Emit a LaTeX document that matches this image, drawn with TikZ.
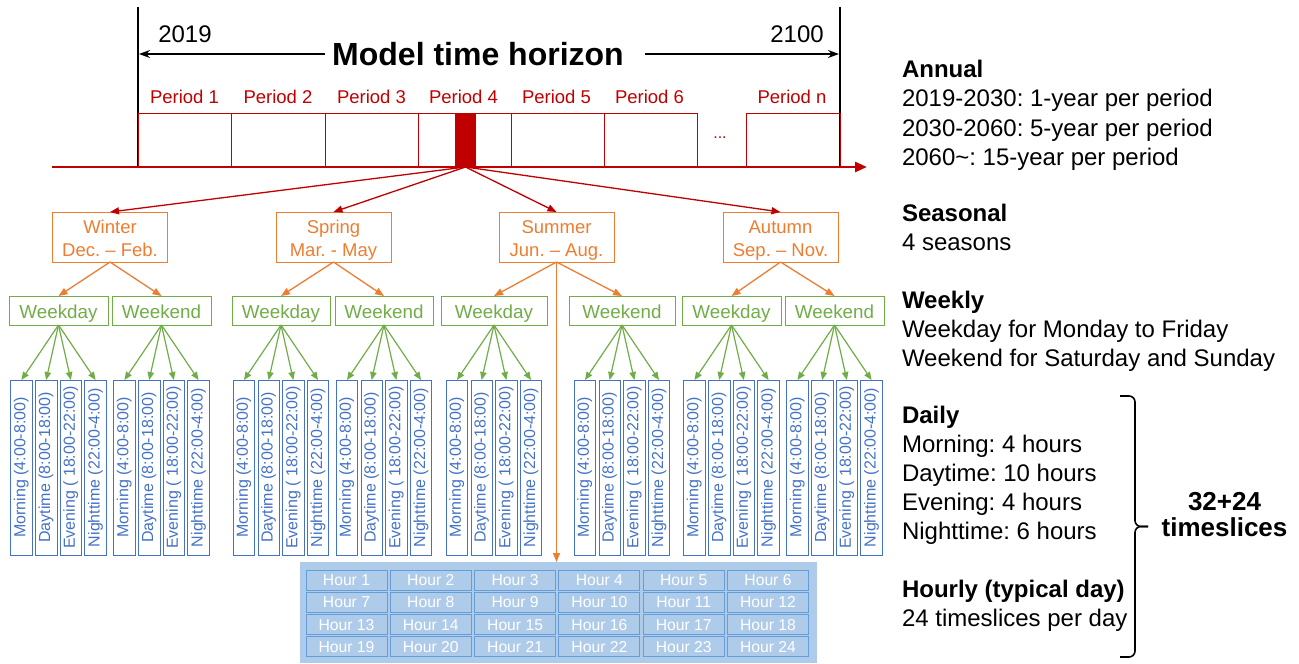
\documentclass[tikz,border=0pt]{standalone}
\usepackage{fontspec}
\setmainfont{Liberation Sans}
\usetikzlibrary{arrows.meta}
\definecolor{pred}{RGB}{192,0,0}
\definecolor{porange}{RGB}{237,125,49}
\definecolor{pgreen}{RGB}{112,173,71}
\definecolor{pblue}{RGB}{68,114,196}
\definecolor{hbg}{RGB}{174,203,234}
\definecolor{hborder}{RGB}{100,158,218}
\frenchspacing
\newcommand{\topl}{\rule{0pt}{20.2pt}}
\newcommand{\botl}{\rule[-4pt]{0pt}{4pt}}
\begin{document}
\begin{tikzpicture}[x=1pt,y=-1pt,
  every node/.style={inner sep=0pt, outer sep=0pt},
  plabel/.style={text=pred, font=\fontsize{18.5}{22}\selectfont},
  pbox/.style={draw=pred, line width=0.8pt, minimum height=54pt},
  season/.style={draw=porange, text=porange, line width=1pt, minimum width=115pt, minimum height=50pt, align=center, font=\fontsize{18.5}{23}\selectfont},
  wkbox/.style={draw=pgreen, text=pgreen, line width=1pt, minimum height=29pt, text height=16pt, text depth=1pt, font=\fontsize{18.8}{22}\selectfont},
  dybox/.style={draw=pblue, text=pblue, line width=0.8pt, minimum width=175pt, minimum height=21.5pt, rotate=90, text height=11.5pt, text depth=3.5pt, font=\fontsize{16}{18}\selectfont},
  hcell/.style={draw=hborder, fill=hbg, text=white, line width=1pt, minimum width=81pt, minimum height=20pt, text height=11pt, text depth=0pt, font=\fontsize{15.7}{18}\selectfont},
  rtxt/.style={anchor=base west, font=\fontsize{24}{29}\selectfont},
  rbold/.style={anchor=base west, font=\fontsize{24}{29}\selectfont\bfseries},
  rarrow/.style={draw=pred, line width=1.3pt, -{Triangle[length=9pt,width=7pt]}},
  oarrow/.style={draw=porange, line width=1.3pt, -{Triangle[length=9pt,width=7pt]}},
  garrow/.style={draw=pgreen, line width=1.2pt, -{Triangle[length=8pt,width=6.5pt]}},
  karrow/.style={draw=black, line width=1.5pt, -{Stealth[length=11pt,width=8pt]}}
]
\path[use as bounding box] (0,0) rectangle (1299,664);

% ---- time horizon ----
\coordinate (vL1) at (138,7);  \coordinate (vL2) at (138,167);
\coordinate (vR1) at (840,7);  \coordinate (vR2) at (840,167);
\coordinate (axL) at (52,167); \coordinate (axR) at (867,167);
\draw[black, line width=2pt] (vL1) -- (vL2);
\draw[black, line width=2pt] (vR1) -- (vR2);
\node[font=\fontsize{24}{28}\selectfont] (y2019) at (185,34) {2019};
\node[font=\fontsize{24}{28}\selectfont] (y2100) at (797,34) {2100};
\node[font=\fontsize{32}{36}\selectfont\bfseries] (title) at (478,54) {Model time horizon};
\coordinate (aL0) at (325,54); \coordinate (aL1) at (139,54);
\coordinate (aR0) at (645,54); \coordinate (aR1) at (839,54);
\draw[karrow] (aL0) -- (aL1);
\draw[karrow] (aR0) -- (aR1);

% period boxes
\node[pbox, minimum width=93pt] (p1) at (184.5,140) {};
\node[pbox, minimum width=94pt] (p2) at (278,140) {};
\node[pbox, minimum width=93pt] (p3) at (371.5,140) {};
\node[pbox, minimum width=93pt] (p4) at (464.5,140) {};
\node[pbox, minimum width=93pt] (p5) at (557.5,140) {};
\node[pbox, minimum width=93pt] (p6) at (650.5,140) {};
\node[pbox, minimum width=94pt] (pn) at (793,140) {};
\node[fill=pred, minimum width=21pt, minimum height=54pt] (p4f) at (465.5,140) {};
\node[plabel] (l1) at (184.5,97) {Period 1};
\node[plabel] (l2) at (278,97) {Period 2};
\node[plabel] (l3) at (371.5,97) {Period 3};
\node[plabel] (l4) at (463.5,97) {Period 4};
\node[plabel] (l5) at (556.5,97) {Period 5};
\node[plabel] (l6) at (649.5,97) {Period 6};
\node[plabel] (ln) at (792,97) {Period n};
\node[text=pred, font=\fontsize{16}{18}\selectfont] (dots) at (720,138) {...};
\draw[pred, line width=2.6pt, -{Triangle[length=12pt,width=10pt]}] (axL) -- (axR);

% ---- seasons ----
\node[season] (s1) at (110,237) {\topl Winter\\Dec. – Feb.\botl};
\node[season] (s2) at (333.5,237) {\topl Spring\\Mar. - May\botl};
\node[season] (s3) at (556.5,237) {\topl Summer\\Jun. – Aug.\botl};
\node[season] (s4) at (780.5,237) {\topl Autumn\\Sep. – Nov.\botl};
\foreach \s in {1,2,3,4} \draw[rarrow] (p4f.south) -- (s\s.north);

% ---- weekday / weekend ----
\foreach \g/\x/\w/\t in {1/58.5/99/Weekday,2/161.5/99/Weekend,3/281/98/Weekday,4/384/98/Weekend,5/494/106/Weekday,6/622/106/Weekend,7/731.5/99/Weekday,8/834.5/99/Weekend}
  \node[wkbox, minimum width=\w pt] (wk\g) at (\x,310.5) {\t};
\draw[oarrow] (s1.south) -- (wk1.north);
\draw[oarrow] (s1.south) -- (wk2.north);
\draw[oarrow] (s2.south) -- (wk3.north);
\draw[oarrow] (s2.south) -- (wk4.north);
\draw[oarrow] (s3.south) -- (wk5.north);
\draw[oarrow] (s3.south) -- (wk6.north);
\draw[oarrow] (s4.south) -- (wk7.north);
\draw[oarrow] (s4.south) -- (wk8.north);

% ---- daily ----
\foreach \g/\s in {1/10.7,2/113.7,3/233.2,4/336.2,5/446.2,6/574.2,7/683.7,8/786.7}{
  \foreach \i/\t in {0/{Morning (4:00-8:00)},1/{Daytime (8:00-18:00)},2/{Evening ( 18:00-22:00)},3/{Nighttime (22:00-4:00)}}{
    \node[dybox] (d\g-\i) at ({\s+10.75+24.7*\i},467.5) {\t};
    \draw[garrow] (wk\g.south) -- (d\g-\i.east);
  }
}

% ---- hourly ----
\node[fill=hbg, minimum width=517pt, minimum height=101pt] (hbgbox) at (558.5,612.5) {};
\foreach \r in {0,...,3}{
  \foreach \c in {0,...,5}{
    \pgfmathtruncatemacro\hn{\r*6+\c+1}
    \node[hcell] (h\hn) at ({346.5+84.3*\c},{580+22.3*\r}) {Hour \hn};
  }
}
\draw[oarrow] (s3.south) -- (s3.south |- hbgbox.north);

% ---- right text ----
\node[rbold] (tA) at (902,77.5) {Annual};
\node[rtxt] (tA1) at (902,106.5) {2019-2030: 1-year per period};
\node[rtxt] (tA2) at (902,136) {2030-2060: 5-year per period};
\node[rtxt] (tA3) at (902,165) {2060\textasciitilde: 15-year per period};
\node[rbold] (tS) at (902,221.5) {Seasonal};
\node[rtxt] (tS1) at (902,250.5) {4 seasons};
\node[rbold] (tW) at (902,308.5) {Weekly};
\node[rtxt] (tW1) at (902,337.5) {Weekday for Monday to Friday};
\node[rtxt] (tW2) at (902,366.5) {Weekend for Saturday and Sunday};
\node[rbold] (tD) at (902,423.5) {Daily};
\node[rtxt] (tD1) at (902,452.5) {Morning: 4 hours};
\node[rtxt] (tD2) at (902,481.5) {Daytime: 10 hours};
\node[rtxt] (tD3) at (902,510.5) {Evening: 4 hours};
\node[rtxt] (tD4) at (902,539.5) {Nighttime: 6 hours};
\node[rbold] (tH) at (902,597.5) {Hourly (typical day)};
\node[rtxt] (tH1) at (902,626) {24 timeslices per day};

% brace
\coordinate (br1) at (1120,396); \coordinate (br2) at (1120,657);
\coordinate (brm) at (1135,526.5); \coordinate (brt) at (1148,526.5);
\draw[black, line width=1.6pt, rounded corners=6pt] (br1) -| (brm) -- (brt);
\draw[black, line width=1.6pt, rounded corners=6pt] (br2) -| (brm) -- (brt);
\node[anchor=base, font=\fontsize{26}{30}\selectfont\bfseries] (ts1) at (1224.5,510) {32+24};
\node[anchor=base, font=\fontsize{26}{30}\selectfont\bfseries] (ts2) at (1224.5,536) {timeslices};
\end{tikzpicture}
\end{document}
